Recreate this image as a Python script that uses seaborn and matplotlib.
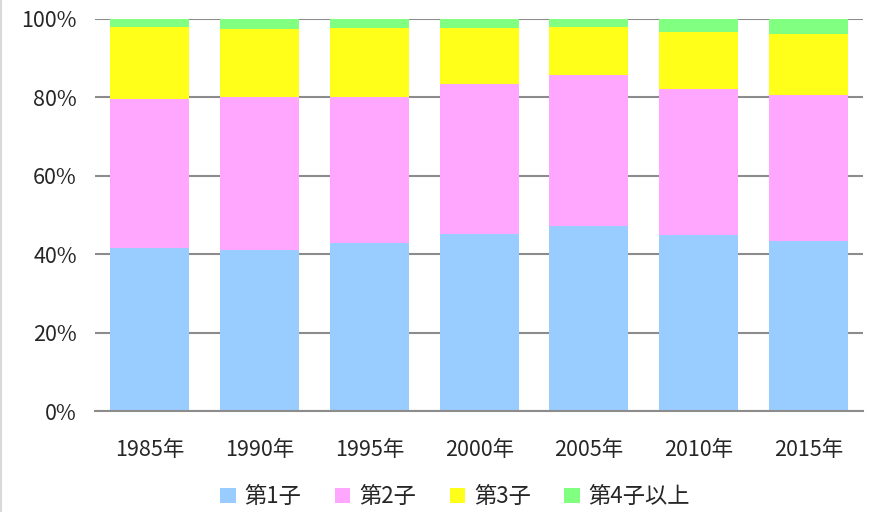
import pandas as pd
import numpy as np
import matplotlib
matplotlib.use("Agg")
import matplotlib.pyplot as plt
import seaborn as sns
from matplotlib.patches import Patch
from matplotlib.lines import Line2D

years = ["1985年", "1990年", "1995年", "2000年", "2005年", "2010年", "2015年"]
first = [41.7, 41.0, 42.8, 45.1, 47.3, 45.0, 43.5]
second = [37.9, 39.2, 37.4, 38.3, 38.5, 37.2, 37.2]
third = [18.4, 17.2, 17.6, 14.2, 12.2, 14.5, 15.5]
fourth = [2.0, 2.6, 2.2, 2.4, 2.0, 3.3, 3.8]
labels = ["第1子", "第2子", "第3子", "第4子以上"]
colors = ["#99CCFF", "#FFA6FF", "#FFFF19", "#80FF80"]

sns.set_style("white")
plt.rcParams["font.family"] = ["Noto Sans CJK JP", "DejaVu Sans"]

df = pd.DataFrame({"year": years, "c1": first, "c2": second, "c3": third, "c4": fourth})
cum = df[["c1", "c2", "c3", "c4"]].cumsum(axis=1)
cum["year"] = years

fig = plt.figure(figsize=(8.72, 5.12), dpi=100)
ax = fig.add_axes([0.109, 0.197, 0.881, 0.766])
ax.set_axisbelow(True)
ax.yaxis.grid(True, color="#8c8c8c", linewidth=1.5)

# draw tallest first so each layer covers the one above
for col, c in zip(["c4", "c3", "c2", "c1"], colors[::-1]):
    sns.barplot(data=cum, x="year", y=col, color=c, width=0.72, saturation=1,
                edgecolor="none", ax=ax)

ax.set_ylim(0, 100)
ax.set_xlim(-0.5, 6.5)
ax.set_yticks(np.arange(0, 101, 20))
ax.set_yticklabels([f"{v}%" for v in range(0, 101, 20)])
ax.set_xlabel("")
ax.set_ylabel("")
for s in ["top", "right", "left"]:
    ax.spines[s].set_visible(False)
ax.spines["bottom"].set_color("#8c8c8c")
ax.spines["bottom"].set_linewidth(1.5)
ax.tick_params(axis="y", length=5, color="#8c8c8c", labelsize=15.5, pad=8)
ax.tick_params(axis="x", length=0, labelsize=15.5, pad=20)

handles = [Patch(facecolor=c, edgecolor="none") for c in colors]
fig.legend(handles, labels, loc="center", bbox_to_anchor=(0.522, 0.03), ncol=4,
           frameon=False, fontsize=16, handlelength=0.7, handleheight=0.7,
           handletextpad=0.4, columnspacing=1.5)

fig.add_artist(Line2D([0.001, 0.001], [0, 1], color="#d9d9d9", linewidth=1.5))

fig.savefig("out.png", dpi=100)
